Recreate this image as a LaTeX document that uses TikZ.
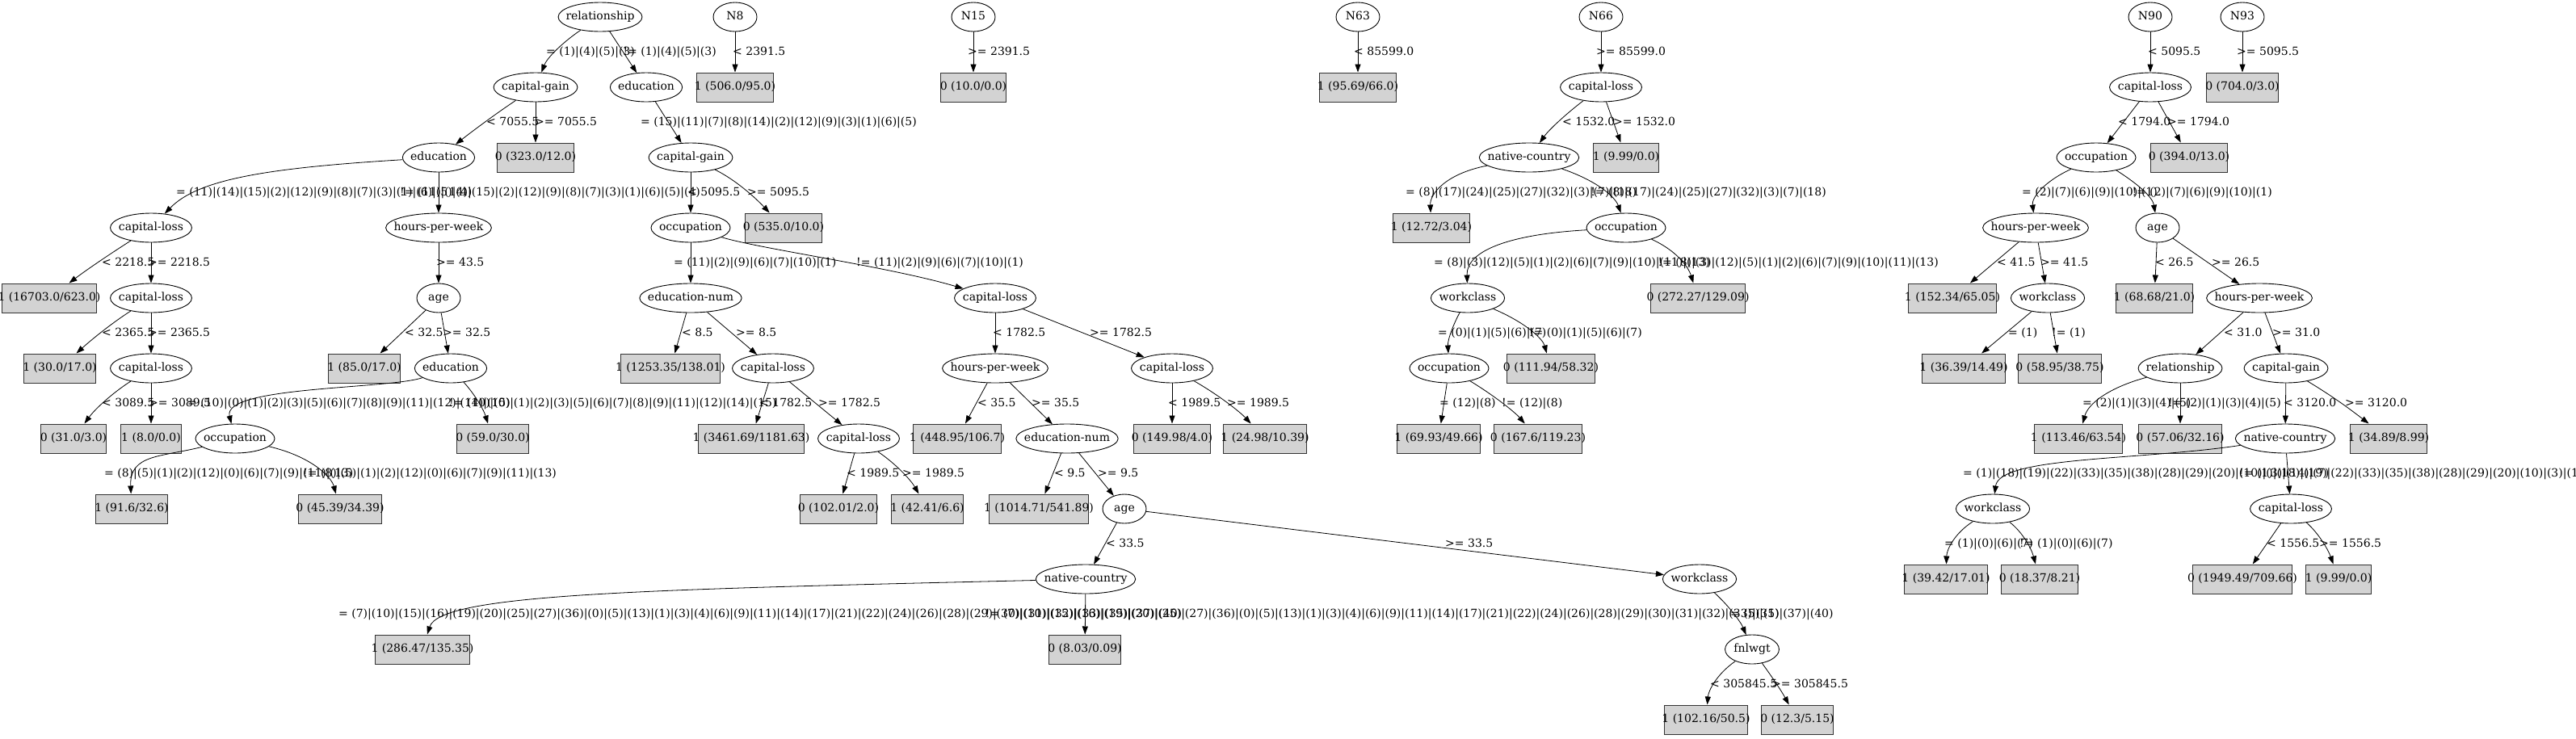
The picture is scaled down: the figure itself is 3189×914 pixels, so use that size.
\documentclass[tikz,border=0pt]{standalone}
\usepackage{fontspec}
\setmainfont{DejaVu Serif}
\newfontfamily\tmsfont{Liberation Serif}
\usetikzlibrary{shapes.geometric,arrows.meta}
\definecolor{leafgray}{HTML}{D3D3D3}
\newlength\tmpw
\newcommand\ovalnode[4]{%
  \node[oval] (#1) at (#2,#3) {\settowidth{\tmpw}{\tmsfont #4}\pgfmathsetlength{\tmpw}{max(54pt,1.254*\tmpw+21pt)/1.41421}\makebox[\tmpw]{\makebox[0pt]{#4}}};}
\newcommand\leafnode[4]{%
  \node[leaf] (#1) at (#2,#3) {\settowidth{\tmpw}{\tmsfont #4}\makebox[\dimexpr\tmpw+16pt\relax]{\makebox[0pt]{#4}}};}
\newcommand\elab[5]{\node[elab, anchor=#4] (#1) at (#2,#3) {#5};}
\tikzset{
  oval/.style={ellipse, draw=black, line width=0.9pt, minimum height=36pt, inner sep=0pt, text height=10.5pt, text depth=3pt},
  leaf/.style={rectangle, draw=black!80, fill=leafgray, line width=1pt, minimum height=36pt, inner sep=0pt, text height=10.5pt, text depth=3pt},
  elab/.style={inner sep=0pt, text height=10.5pt, text depth=3pt},
  edge/.style={draw=black, line width=0.8pt, -{Triangle[length=10pt,width=7pt]}}
}
\begin{document}
\begin{tikzpicture}[x=1pt,y=-1pt,font=\fontsize{14}{16}\selectfont]
\useasboundingbox (0,0) rectangle (3189,914);
\fill[white] (0,0) rectangle (3189,914);
\clip (0,0) rectangle (3189,914);
% ---------- inner nodes ----------
\ovalnode{r1}{743}{21}{relationship}
\ovalnode{cg1}{663}{108}{capital-gain}
\ovalnode{ed1}{800}{108}{education}
\ovalnode{ed2}{543}{195}{education}
\ovalnode{cl1}{187}{282}{capital-loss}
\ovalnode{hw1}{543}{282}{hours-per-week}
\ovalnode{cl2}{187}{369}{capital-loss}
\ovalnode{ag1}{543}{369}{age}
\ovalnode{cl3}{187}{456}{capital-loss}
\ovalnode{ed3}{558}{456}{education}
\ovalnode{oc1}{291}{543}{occupation}
\ovalnode{cg2}{855}{195}{capital-gain}
\ovalnode{oc2}{855}{282}{occupation}
\ovalnode{en1}{855}{369}{education-num}
\ovalnode{cl4}{1232}{369}{capital-loss}
\ovalnode{cl5}{957}{456}{capital-loss}
\ovalnode{hw2}{1232}{456}{hours-per-week}
\ovalnode{cl6}{1451}{456}{capital-loss}
\ovalnode{cl7}{1063}{543}{capital-loss}
\ovalnode{en2}{1321}{543}{education-num}
\ovalnode{ag2}{1392}{630}{age}
\ovalnode{nc1}{1344}{717}{native-country}
\ovalnode{wc1}{2104}{717}{workclass}
\ovalnode{fw1}{2169}{804}{fnlwgt}
\ovalnode{n8}{910}{21}{N8}
\ovalnode{n15}{1205}{21}{N15}
\ovalnode{n63}{1681}{21}{N63}
\ovalnode{n66}{1982}{21}{N66}
\ovalnode{cl8}{1982}{108}{capital-loss}
\ovalnode{nc2}{1893}{195}{native-country}
\ovalnode{oc3}{2013}{282}{occupation}
\ovalnode{wc2}{1817}{369}{workclass}
\ovalnode{oc4}{1794}{456}{occupation}
\ovalnode{n90}{2662}{21}{N90}
\ovalnode{n93}{2776}{21}{N93}
\ovalnode{cl9}{2662}{108}{capital-loss}
\ovalnode{oc5}{2595}{195}{occupation}
\ovalnode{hw3}{2520}{282}{hours-per-week}
\ovalnode{ag3}{2671}{282}{age}
\ovalnode{wc3}{2535}{369}{workclass}
\ovalnode{hw4}{2797}{369}{hours-per-week}
\ovalnode{re2}{2699}{456}{relationship}
\ovalnode{cg3}{2830}{456}{capital-gain}
\ovalnode{nc3}{2829}{543}{native-country}
\ovalnode{wc4}{2467}{630}{workclass}
\ovalnode{cl10}{2836}{630}{capital-loss}
% ---------- leaves ----------
\leafnode{b1}{663}{195}{0 (323.0/12.0)}
\leafnode{b2}{61}{369}{1 (16703.0/623.0)}
\leafnode{b3}{74}{456}{1 (30.0/17.0)}
\leafnode{b4}{451}{456}{1 (85.0/17.0)}
\leafnode{b5}{91}{543}{0 (31.0/3.0)}
\leafnode{b6}{187}{543}{1 (8.0/0.0)}
\leafnode{b7}{610}{543}{0 (59.0/30.0)}
\leafnode{b8}{163}{630}{1 (91.6/32.6)}
\leafnode{b9}{421}{630}{0 (45.39/34.39)}
\leafnode{b10}{523}{804}{1 (286.47/135.35)}
\leafnode{b11}{910}{108}{1 (506.0/95.0)}
\leafnode{b12}{1205}{108}{0 (10.0/0.0)}
\leafnode{b13}{970}{282}{0 (535.0/10.0)}
\leafnode{b14}{830}{456}{1 (1253.35/138.01)}
\leafnode{b15}{930}{543}{1 (3461.69/1181.63)}
\leafnode{b16}{1185}{543}{1 (448.95/106.7)}
\leafnode{b17}{1451}{543}{0 (149.98/4.0)}
\leafnode{b18}{1566}{543}{1 (24.98/10.39)}
\leafnode{b19}{1038}{630}{0 (102.01/2.0)}
\leafnode{b20}{1148}{630}{1 (42.41/6.6)}
\leafnode{b21}{1286}{630}{1 (1014.71/541.89)}
\leafnode{b22}{1343}{804}{0 (8.03/0.09)}
\leafnode{b23}{2112}{891}{1 (102.16/50.5)}
\leafnode{b24}{2225}{891}{0 (12.3/5.15)}
\leafnode{b25}{1681}{108}{1 (95.69/66.0)}
\leafnode{b26}{2013}{195}{1 (9.99/0.0)}
\leafnode{b27}{1772}{282}{1 (12.72/3.04)}
\leafnode{b28}{2102}{369}{0 (272.27/129.09)}
\leafnode{b29}{1920}{456}{0 (111.94/58.32)}
\leafnode{b30}{1781}{543}{1 (69.93/49.66)}
\leafnode{b31}{1904}{543}{0 (167.6/119.23)}
\leafnode{b32}{2776}{108}{0 (704.0/3.0)}
\leafnode{b33}{2710}{195}{0 (394.0/13.0)}
\leafnode{b34}{2417}{369}{1 (152.34/65.05)}
\leafnode{b35}{2667}{369}{1 (68.68/21.0)}
\leafnode{b36}{2431}{456}{1 (36.39/14.49)}
\leafnode{b37}{2550}{456}{0 (58.95/38.75)}
\leafnode{b38}{2573}{543}{1 (113.46/63.54)}
\leafnode{b39}{2699}{543}{0 (57.06/32.16)}
\leafnode{b40}{2957}{543}{1 (34.89/8.99)}
\leafnode{b41}{2409}{717}{1 (39.42/17.01)}
\leafnode{b42}{2525}{717}{0 (18.37/8.21)}
\leafnode{b43}{2776}{717}{0 (1949.49/709.66)}
\leafnode{b44}{2895}{717}{1 (9.99/0.0)}
% ---------- connectors ----------
\draw[edge] (r1) .. controls (700,50) and (678,70) .. (cg1);
\draw[edge] (r1) -- (ed1);
\draw[edge] (cg1) .. controls (615,140) and (588,160) .. (ed2);
\draw[edge] (cg1) -- (b1);
\draw[edge] (ed2) .. controls (330,208) and (245,222) .. (cl1);
\draw[edge] (ed2) -- (hw1);
\draw[edge] (cl1) .. controls (140,312) and (110,332) .. (b2);
\draw[edge] (cl1) -- (cl2);
\draw[edge] (hw1) -- (ag1);
\draw[edge] (cl2) .. controls (140,399) and (115,419) .. (b3);
\draw[edge] (cl2) -- (cl3);
\draw[edge] (ag1) -- (b4);
\draw[edge] (ag1) -- (ed3);
\draw[edge] (cl3) .. controls (140,486) and (118,506) .. (b5);
\draw[edge] (cl3) -- (b6);
\draw[edge] (ed3) .. controls (480,482) and (275,478) .. (oc1);
\draw[edge] (ed3) .. controls (585,485) and (598,505) .. (b7);
\draw[edge] (oc1) .. controls (200,566) and (160,562) .. (b8);
\draw[edge] (oc1) .. controls (385,565) and (410,590) .. (b9);
\draw[edge] (ed1) -- (cg2);
\draw[edge] (cg2) -- (oc2);
\draw[edge] (cg2) .. controls (915,225) and (940,250) .. (b13);
\draw[edge] (oc2) -- (en1);
\draw[edge] (oc2) .. controls (940,308) and (1100,330) .. (cl4);
\draw[edge] (en1) -- (b14);
\draw[edge] (en1) -- (cl5);
\draw[edge] (cl4) -- (hw2);
\draw[edge] (cl4) -- (cl6);
\draw[edge] (cl5) -- (b15);
\draw[edge] (cl5) -- (cl7);
\draw[edge] (hw2) -- (b16);
\draw[edge] (hw2) -- (en2);
\draw[edge] (cl6) -- (b17);
\draw[edge] (cl6) .. controls (1510,490) and (1535,510) .. (b18);
\draw[edge] (cl7) -- (b19);
\draw[edge] (cl7) .. controls (1110,575) and (1128,595) .. (b20);
\draw[edge] (en2) -- (b21);
\draw[edge] (en2) -- (ag2);
\draw[edge] (ag2) -- (nc1);
\draw[edge] (ag2) -- (wc1);
\draw[edge] (nc1) .. controls (800,730) and (545,735) .. (b10);
\draw[edge] (nc1) -- (b22);
\draw[edge] (wc1) .. controls (2140,750) and (2155,770) .. (fw1);
\draw[edge] (fw1) .. controls (2125,835) and (2115,855) .. (b23);
\draw[edge] (fw1) .. controls (2195,840) and (2205,855) .. (b24);
\draw[edge] (n8) -- (b11);
\draw[edge] (n15) -- (b12);
\draw[edge] (n63) -- (b25);
\draw[edge] (n66) -- (cl8);
\draw[edge] (cl8) .. controls (1940,140) and (1918,160) .. (nc2);
\draw[edge] (cl8) -- (b26);
\draw[edge] (nc2) .. controls (1790,215) and (1770,240) .. (b27);
\draw[edge] (nc2) .. controls (1980,225) and (2000,245) .. (oc3);
\draw[edge] (oc3) .. controls (1870,290) and (1815,310) .. (wc2);
\draw[edge] (oc3) .. controls (2075,310) and (2090,330) .. (b28);
\draw[edge] (wc2) .. controls (1800,400) and (1792,420) .. (oc4);
\draw[edge] (wc2) .. controls (1890,400) and (1910,420) .. (b29);
\draw[edge] (oc4) -- (b30);
\draw[edge] (oc4) .. controls (1850,490) and (1875,510) .. (b31);
\draw[edge] (n90) -- (cl9);
\draw[edge] (n93) -- (b32);
\draw[edge] (cl9) -- (oc5);
\draw[edge] (cl9) -- (b33);
\draw[edge] (oc5) .. controls (2530,225) and (2515,245) .. (hw3);
\draw[edge] (oc5) .. controls (2650,230) and (2665,245) .. (ag3);
\draw[edge] (hw3) -- (b34);
\draw[edge] (hw3) -- (wc3);
\draw[edge] (ag3) -- (b35);
\draw[edge] (ag3) -- (hw4);
\draw[edge] (wc3) -- (b36);
\draw[edge] (wc3) -- (b37);
\draw[edge] (hw4) -- (re2);
\draw[edge] (hw4) -- (cg3);
\draw[edge] (re2) .. controls (2610,480) and (2585,500) .. (b38);
\draw[edge] (re2) -- (b39);
\draw[edge] (cg3) -- (nc3);
\draw[edge] (cg3) .. controls (2895,495) and (2920,515) .. (b40);
\draw[edge] (nc3) .. controls (2650,570) and (2475,565) .. (wc4);
\draw[edge] (nc3) -- (cl10);
\draw[edge] (wc4) .. controls (2420,660) and (2410,680) .. (b41);
\draw[edge] (wc4) .. controls (2505,660) and (2515,680) .. (b42);
\draw[edge] (cl10) -- (b43);
\draw[edge] (cl10) .. controls (2870,660) and (2882,680) .. (b44);
% ---------- connector labels ----------
\elab{l1}{676}{64.5}{west}{= (1)|(4)|(5)|(3)}
\elab{l2}{887}{64.5}{east}{!= (1)|(4)|(5)|(3)}
\elab{l3}{602}{151.5}{west}{< 7055.5}
\elab{l4}{662}{151.5}{west}{>= 7055.5}
\elab{l5}{218}{238.5}{west}{= (11)|(14)|(15)|(2)|(12)|(9)|(8)|(7)|(3)|(1)|(6)|(5)|(4)}
\elab{l6}{495}{238.5}{west}{!= (11)|(14)|(15)|(2)|(12)|(9)|(8)|(7)|(3)|(1)|(6)|(5)|(4)}
\elab{l7}{126}{325.5}{west}{< 2218.5}
\elab{l8}{183}{325.5}{west}{>= 2218.5}
\elab{l9}{540}{325.5}{west}{>= 43.5}
\elab{l10}{126}{412.5}{west}{< 2365.5}
\elab{l11}{183}{412.5}{west}{>= 2365.5}
\elab{l12}{501}{412.5}{west}{< 32.5}
\elab{l13}{548}{412.5}{west}{>= 32.5}
\elab{l14}{126}{499.5}{west}{< 3089.5}
\elab{l15}{184}{499.5}{west}{>= 3089.5}
\elab{l16}{232}{499.5}{west}{= (10)|(0)|(1)|(2)|(3)|(5)|(6)|(7)|(8)|(9)|(11)|(12)|(14)|(15)}
\elab{l17}{556}{499.5}{west}{!= (10)|(0)|(1)|(2)|(3)|(5)|(6)|(7)|(8)|(9)|(11)|(12)|(14)|(15)}
\elab{l18}{129}{586.5}{west}{= (8)|(5)|(1)|(2)|(12)|(0)|(6)|(7)|(9)|(11)|(13)}
\elab{l19}{375}{586.5}{west}{!= (8)|(5)|(1)|(2)|(12)|(0)|(6)|(7)|(9)|(11)|(13)}
\elab{l20}{793}{151.5}{west}{= (15)|(11)|(7)|(8)|(14)|(2)|(12)|(9)|(3)|(1)|(6)|(5)}
\elab{l21}{851}{238.5}{west}{< 5095.5}
\elab{l22}{925}{238.5}{west}{>= 5095.5}
\elab{l23}{834}{325.5}{west}{= (11)|(2)|(9)|(6)|(7)|(10)|(1)}
\elab{l24}{1060}{325.5}{west}{!= (11)|(2)|(9)|(6)|(7)|(10)|(1)}
\elab{l25}{844}{412.5}{west}{< 8.5}
\elab{l26}{911}{412.5}{west}{>= 8.5}
\elab{l27}{1229}{412.5}{west}{< 1782.5}
\elab{l28}{1349}{412.5}{west}{>= 1782.5}
\elab{l29}{940}{499.5}{west}{< 1782.5}
\elab{l30}{1013}{499.5}{west}{>= 1782.5}
\elab{l31}{1210}{499.5}{west}{< 35.5}
\elab{l32}{1277}{499.5}{west}{>= 35.5}
\elab{l33}{1446}{499.5}{west}{< 1989.5}
\elab{l34}{1519}{499.5}{west}{>= 1989.5}
\elab{l35}{1048}{586.5}{west}{< 1989.5}
\elab{l36}{1117}{586.5}{west}{>= 1989.5}
\elab{l37}{1305}{586.5}{west}{< 9.5}
\elab{l38}{1359}{586.5}{west}{>= 9.5}
\elab{l39}{1369}{673.5}{west}{< 33.5}
\elab{l40}{1789}{673.5}{west}{>= 33.5}
\elab{l41}{419}{760.5}{west}{= (7)|(10)|(15)|(16)|(19)|(20)|(25)|(27)|(36)|(0)|(5)|(13)|(1)|(3)|(4)|(6)|(9)|(11)|(14)|(17)|(21)|(22)|(24)|(26)|(28)|(29)|(30)|(31)|(32)|(33)|(35)|(37)|(40)}
\elab{l42}{2270}{760.5}{east}{!= (7)|(10)|(15)|(16)|(19)|(20)|(25)|(27)|(36)|(0)|(5)|(13)|(1)|(3)|(4)|(6)|(9)|(11)|(14)|(17)|(21)|(22)|(24)|(26)|(28)|(29)|(30)|(31)|(32)|(33)|(35)|(37)|(40)}
\elab{l43}{2142}{760.5}{west}{= (5)|(1)}
\elab{l44}{2117}{847.5}{west}{< 305845.5}
\elab{l45}{2193}{847.5}{west}{>= 305845.5}
\elab{l46}{907}{64.5}{west}{< 2391.5}
\elab{l47}{1198}{64.5}{west}{>= 2391.5}
\elab{l48}{1676}{64.5}{west}{< 85599.0}
\elab{l49}{1976}{64.5}{west}{>= 85599.0}
\elab{l50}{1934}{151.5}{west}{< 1532.0}
\elab{l51}{1997}{151.5}{west}{>= 1532.0}
\elab{l52}{1740}{238.5}{west}{= (8)|(17)|(24)|(25)|(27)|(32)|(3)|(7)|(18)}
\elab{l53}{2261}{238.5}{east}{!= (8)|(17)|(24)|(25)|(27)|(32)|(3)|(7)|(18)}
\elab{l54}{1775}{325.5}{west}{= (8)|(3)|(12)|(5)|(1)|(2)|(6)|(7)|(9)|(10)|(11)|(13)}
\elab{l55}{2400}{325.5}{east}{!= (8)|(3)|(12)|(5)|(1)|(2)|(6)|(7)|(9)|(10)|(11)|(13)}
\elab{l56}{1780}{412.5}{west}{= (0)|(1)|(5)|(6)|(7)}
\elab{l57}{2033}{412.5}{east}{!= (0)|(1)|(5)|(6)|(7)}
\elab{l58}{1782}{499.5}{west}{= (12)|(8)}
\elab{l59}{1859}{499.5}{west}{!= (12)|(8)}
\elab{l60}{2659}{64.5}{west}{< 5095.5}
\elab{l61}{2769}{64.5}{west}{>= 5095.5}
\elab{l62}{2622}{151.5}{west}{< 1794.0}
\elab{l63}{2683}{151.5}{west}{>= 1794.0}
\elab{l64}{2503}{238.5}{west}{= (2)|(7)|(6)|(9)|(10)|(1)}
\elab{l65}{2813}{238.5}{east}{!= (2)|(7)|(6)|(9)|(10)|(1)}
\elab{l66}{2472}{325.5}{west}{< 41.5}
\elab{l67}{2526}{325.5}{west}{>= 41.5}
\elab{l68}{2668}{325.5}{west}{< 26.5}
\elab{l69}{2738}{325.5}{west}{>= 26.5}
\elab{l70}{2486}{412.5}{west}{= (1)}
\elab{l71}{2540}{412.5}{west}{!= (1)}
\elab{l72}{2753}{412.5}{west}{< 31.0}
\elab{l73}{2813}{412.5}{west}{>= 31.0}
\elab{l74}{2578}{499.5}{west}{= (2)|(1)|(3)|(4)|(5)}
\elab{l75}{2824}{499.5}{east}{!= (2)|(1)|(3)|(4)|(5)}
\elab{l76}{2827}{499.5}{west}{< 3120.0}
\elab{l77}{2903}{499.5}{west}{>= 3120.0}
\elab{l78}{2430}{586.5}{west}{= (1)|(18)|(19)|(22)|(33)|(35)|(38)|(28)|(29)|(20)|(10)|(3)|(14)|(7)}
\elab{l79}{2772}{586.5}{west}{!= (1)|(18)|(19)|(22)|(33)|(35)|(38)|(28)|(29)|(20)|(10)|(3)|(14)|(7)}
\elab{l80}{2407}{673.5}{west}{= (1)|(0)|(6)|(7)}
\elab{l81}{2500}{673.5}{west}{!= (1)|(0)|(6)|(7)}
\elab{l82}{2806}{673.5}{west}{< 1556.5}
\elab{l83}{2871}{673.5}{west}{>= 1556.5}
\end{tikzpicture}
\end{document}
